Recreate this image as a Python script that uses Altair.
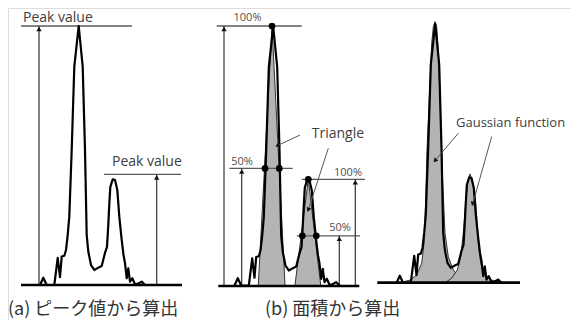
import math
import altair as alt
import pandas as pd

# ---- measured signal (panel a frame), intensity: baseline 0, main peak 100 ----
sig_x = [40, 43.3, 46.7, 54.3, 57.7, 60, 61.7, 64.3, 66, 67.7, 69.3, 71.7, 74.3, 78.7,
         82.7, 85, 86.7, 88.3, 91, 94.3, 98.3, 101.7, 105, 107, 108.3, 109, 110.3, 112.7,
         115, 117.3, 119.3, 121.7, 123.5, 125, 126.7, 128.3, 130, 132.3, 135, 138, 141.7, 145, 146]
sig_i = [0, 2.8, 0, 0, 10.5, 3, 11, 11.3, 13.5, 19.3, 26.4, 52.1, 84.3, 100,
         84.3, 52.1, 19.3, 12.9, 7.7, 5.8, 6.7, 7.3, 12.4, 14.7, 23.2, 29, 37.8, 40.8,
         40.5, 36.7, 26.4, 17.4, 11.6, 8.5, 2.6, 6.4, 1.3, 2.6, 0.3, 0.5, 1.3, 0, 0]
panel_shift = [0, 194.5, 356.5]
panel_base = [0, -0.2, 0.8]

# ---- triangles (panel b) ----
tri_panel = ["main", "main", "main", "second", "second", "second"]
tri_x = [258.3, 272, 285, 295, 308.3, 320.7]
tri_i = [0, 100, 0, 0, 40.8, 0]

# ---- gaussian fits (panel c) ----
g1_x = [400, 410, 416.7, 421.7, 424, 425.7, 427, 430, 431.7, 433.3, 435, 436.7, 438.3,
        440, 441.7, 442.7, 445, 448.3, 453.3, 460, 470, 476.7]
g1_i = [0.9, 1.9, 3.9, 8.4, 16.1, 32.8, 52.1, 77.9, 93.3, 99.7, 101.7, 99.7, 90.7,
        71.4, 52.1, 39.3, 20, 10.9, 5.8, 2.6, 1.3, 0.9]
g2_x = [445, 451.7, 457.3, 460.7, 463.3, 466, 467.7, 470, 472.3, 475, 476.7, 478.3,
        480.7, 485, 491.7, 500]
g2_i = [0.9, 2.6, 5.8, 10.9, 20, 32.8, 39.9, 42.9, 40.5, 35.4, 26.4, 16.1, 8.4, 3.9, 1.9, 0.9]
gauss_base = 0.9

# ---- baselines ----
base_x1 = [21, 218.3, 377.3]
base_x2 = [182, 359.3, 520]
base_i = [0, -0.4, 0.9]

# ---- reference level lines ----
ref_x1 = [21, 104, 216.7, 229.3, 301.7, 296.7]
ref_x2 = [132, 181, 301.7, 292.7, 365, 360]
ref_i = [100, 42.7, 100, 45, 40.8, 19]

# ---- vertical arrows ----
arr_x = [39, 156.7, 224, 241.7, 355.3, 339.3]
arr_bot = [0, 0, -0.4, -0.4, -0.4, -0.4]
arr_top = [100, 42.7, 100, 45, 40.8, 19]

# ---- leader lines ----
lead_x1 = [300, 328.3, 458.3, 491.7]
lead_i1 = [57.9, 52.8, 58.6, 57.3]
lead_x2 = [277.3, 308.3, 435, 472.7]
lead_i2 = [53.8, 29.0, 48.0, 31.3]

# ---- marker dots (panel b) ----
dot_x = [272, 265, 279.3, 308.3, 302.3, 316.3]
dot_i = [100, 45, 45, 40.8, 19, 19]

# ---- labels ----
lab_text = ["Peak value", "Peak value", "Triangle", "Gaussian function"]
lab_x = [23, 112, 311.7, 456]
lab_i = [103.2, 47.6, 58.2, 62.7]
lab_size = [14, 14, 14, 13]
pct_text = ["100%", "50%", "100%", "50%"]
pct_x = [247.5, 242, 348, 340]
pct_i = [103, 47.6, 43.1, 21.9]
cap_text = ["(a) ピーク値から算出", "(b) 面積から算出"]
cap_x = [8, 265]
cap_i = [-9.7, -9.7]

assert len(sig_x) == len(sig_i)

# ---- frames ----
W, H = 563, 312
XD = [8, 571]
YD = [106.95 - H / 2.59, 106.95]
xs = alt.Scale(domain=XD, nice=False, zero=False)
ys = alt.Scale(domain=YD, nice=False, zero=False)
px_per_x = W / (XD[1] - XD[0])
px_per_y = H / (YD[1] - YD[0])

rows = []
for p, (dx, db) in enumerate(zip(panel_shift, panel_base)):
    for k, (x, i) in enumerate(zip(sig_x, sig_i)):
        rows.append({"panel": p, "k": k, "x": x + dx, "y": i + db})
sig_df = pd.DataFrame(rows)

tri_df = pd.DataFrame({"tri": tri_panel, "x": tri_x, "y": tri_i, "y2": [-0.4] * 6})
g_df = pd.DataFrame({
    "g": ["g1"] * len(g1_x) + ["g2"] * len(g2_x),
    "x": g1_x + g2_x,
    "y": g1_i + g2_i,
    "y2": [gauss_base] * (len(g1_x) + len(g2_x)),
})
base_df = pd.DataFrame({"x": base_x1, "x2": base_x2, "y": base_i})
ref_df = pd.DataFrame({"x": ref_x1, "x2": ref_x2, "y": ref_i})
arr_df = pd.DataFrame({"x": arr_x, "y": arr_bot, "y2": arr_top})
lead_df = pd.DataFrame({"x": lead_x1, "x2": lead_x2, "y": lead_i1, "y2": lead_i2})
angles = []
for a, b, c, d in zip(lead_x1, lead_i1, lead_x2, lead_i2):
    dxp = (c - a) * px_per_x
    dyp = -(d - b) * px_per_y
    ang = math.degrees(math.atan2(dxp, -dyp)) % 360
    angles.append(ang)
head_df = pd.DataFrame({"x": lead_x2, "y": lead_i2, "angle": angles})
dot_df = pd.DataFrame({"x": dot_x, "y": dot_i})
lab_df = pd.DataFrame({"t": lab_text, "x": lab_x, "y": lab_i, "s": lab_size})
pct_df = pd.DataFrame({"t": pct_text, "x": pct_x, "y": pct_i})
cap_df = pd.DataFrame({"t": cap_text, "x": cap_x, "y": cap_i})

X = lambda f="x": alt.X(f, type="quantitative", scale=xs, axis=None)
Y = lambda f="y": alt.Y(f, type="quantitative", scale=ys, axis=None)

gauss = alt.Chart(g_df).mark_area(color="#b4b4b4", stroke="#333333", strokeWidth=1).encode(
    x=X(), y=Y(), y2="y2", detail="g:N")
tris = alt.Chart(tri_df).mark_area(color="#b4b4b4", stroke="#333333", strokeWidth=1).encode(
    x=X(), y=Y(), y2="y2", detail="tri:N")
refs = alt.Chart(ref_df).mark_rule(color="#5a5a5a", strokeWidth=1.3).encode(x=X(), x2="x2", y=Y())
arrows = alt.Chart(arr_df).mark_rule(color="#333333", strokeWidth=1.2).encode(x=X(), y=Y(), y2="y2")
arrow_heads = alt.Chart(arr_df).mark_point(shape="triangle-up", filled=True, color="#111111",
                                           size=28, opacity=1, yOffset=3).encode(x=X(), y=Y("y2"))
bases = alt.Chart(base_df).mark_rule(color="#000000", strokeWidth=2.6).encode(x=X(), x2="x2", y=Y())
signal = alt.Chart(sig_df).mark_line(color="#000000", strokeWidth=2.2, strokeJoin="round").encode(
    x=X(), y=Y(), detail="panel:N", order="k:Q")
leaders = alt.Chart(lead_df).mark_rule(color="#555555", strokeWidth=1).encode(
    x=X(), x2="x2", y=Y(), y2="y2")
lead_heads = alt.Chart(head_df).mark_point(shape="triangle-up", filled=True, color="#111111",
                                           size=26, opacity=1).encode(
    x=X(), y=Y(), angle=alt.Angle("angle:Q", scale=None))
dots = alt.Chart(dot_df).mark_circle(color="#000000", size=45, opacity=1).encode(x=X(), y=Y())
labels = alt.Chart(lab_df).mark_text(align="left", baseline="middle", font="Open Sans",
                                     color="#404040").encode(
    x=X(), y=Y(), text="t:N", size=alt.Size("s:Q", scale=None, legend=None))
pcts = alt.Chart(pct_df).mark_text(align="center", baseline="middle", font="Open Sans",
                                   fontSize=11, color="#505050").encode(x=X(), y=Y(), text="t:N")
caps = alt.Chart(cap_df).mark_text(align="left", baseline="middle", font="Noto Sans CJK JP",
                                   fontSize=18, color="#333333").encode(x=X(), y=Y(), text="t:N")

chart = alt.layer(
    gauss, tris, refs, arrows, arrow_heads, bases, signal, leaders, lead_heads, dots,
    labels, pcts, caps
).properties(
    width=W, height=H, padding=0, autosize=alt.AutoSizeParams(type="none")
).configure_view(stroke=None).configure(background="white")

chart.save("out.html", embed_options={"renderer": "svg", "actions": False})
